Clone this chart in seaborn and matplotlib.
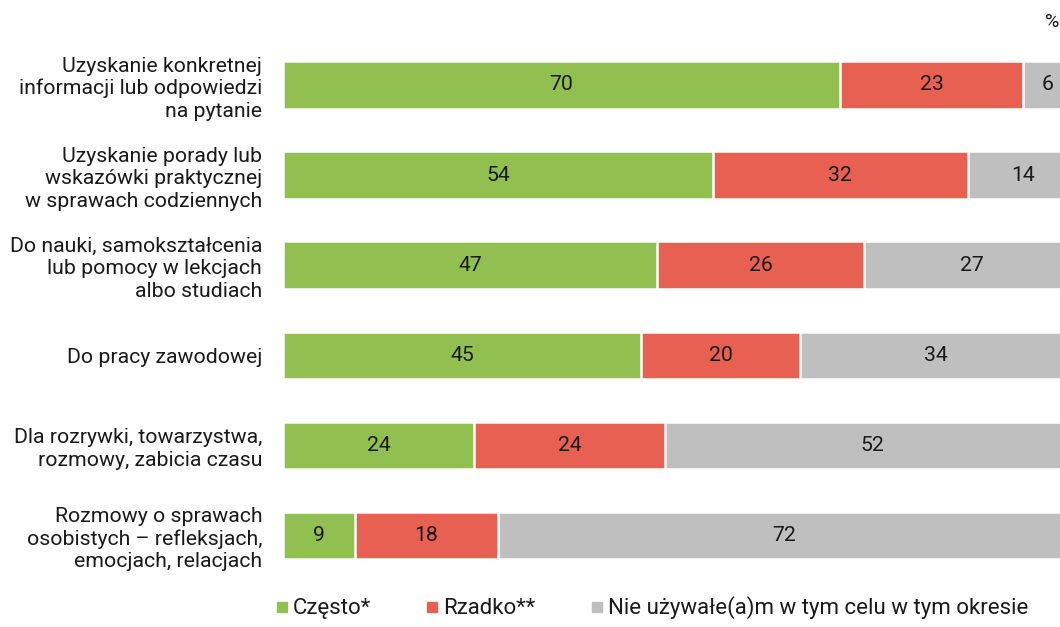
import matplotlib
matplotlib.use("Agg")
import matplotlib.pyplot as plt
import seaborn as sns
import numpy as np
import pandas as pd
from matplotlib.lines import Line2D

categories = [
    "Uzyskanie konkretnej\ninformacji lub odpowiedzi\nna pytanie",
    "Uzyskanie porady lub\nwskazówki praktycznej\nw sprawach codziennych",
    "Do nauki, samokształcenia\nlub pomocy w lekcjach\nalbo studiach",
    "Do pracy zawodowej",
    "Dla rozrywki, towarzystwa,\nrozmowy, zabicia czasu",
    "Rozmowy o sprawach\nosobistych – refleksjach,\nemocjach, relacjach",
]
czesto = [70, 54, 47, 45, 24, 9]
rzadko = [23, 32, 26, 20, 24, 18]
nie_uzywal = [6, 14, 27, 34, 52, 72]
series_names = ["Często*", "Rzadko**", "Nie używałe(a)m w tym celu w tym okresie"]
colors = ["#92c050", "#e86052", "#bfbfbf"]

sns.set_theme(style="white")
plt.rcParams["font.family"] = ["Roboto", "DejaVu Sans"]

df = pd.DataFrame({"cat": categories, "c": czesto, "r": rzadko, "n": nie_uzywal})
df["cum1"] = df["c"]
df["cum2"] = df["c"] + df["r"]
df["cum3"] = df["c"] + df["r"] + df["n"]

FS = 15.3
fig = plt.figure(figsize=(10.6, 6.27), dpi=100)
step = 90.1
top = 85 - 0.6 * step
height = 6.2 * step
ax = fig.add_axes([283 / 1060, 1 - (top + height) / 627, 796 / 1060, height / 627])

for col, color in zip(["cum3", "cum2", "cum1"], colors[::-1]):
    sns.barplot(data=df, x=col, y="cat", color=color, orient="h", width=0.528,
                edgecolor="white", linewidth=1.8, ax=ax, saturation=1)

ax.set_xlim(0, 100)
ax.set_ylim(5.6, -0.6)
ax.set_xlabel("")
ax.set_ylabel("")
ax.set_xticks([])
for s in ax.spines.values():
    s.set_visible(False)
ax.tick_params(axis="y", length=0, pad=15, labelsize=FS)
for lab in ax.get_yticklabels():
    lab.set_horizontalalignment("right")
    lab.set_linespacing(1.22)
    lab.set_color("#1a1a1a")

for i in range(len(categories)):
    starts = [0, czesto[i], czesto[i] + rzadko[i]]
    vals = [czesto[i], rzadko[i], nie_uzywal[i]]
    for st, v in zip(starts, vals):
        ax.text(st + v / 2, i, f"{v}", ha="center", va="center", fontsize=FS, color="#1a1a1a")

fig.text(1052 / 1060, 1 - 22 / 627, "%", ha="center", va="center", fontsize=14, color="#1a1a1a")

handles = [Line2D([0], [0], marker="s", linestyle="", markersize=7, markerfacecolor=c,
                  markeredgecolor=c) for c in colors]
fig.legend(handles, series_names, loc="center left", bbox_to_anchor=(271 / 1060, 1 - 608 / 627),
           ncol=3, frameon=False, fontsize=16, handletextpad=0.0, columnspacing=2.24,
           handlelength=1.0, labelcolor="#1a1a1a", borderaxespad=0, borderpad=0)

fig.savefig("out.png", dpi=100)
